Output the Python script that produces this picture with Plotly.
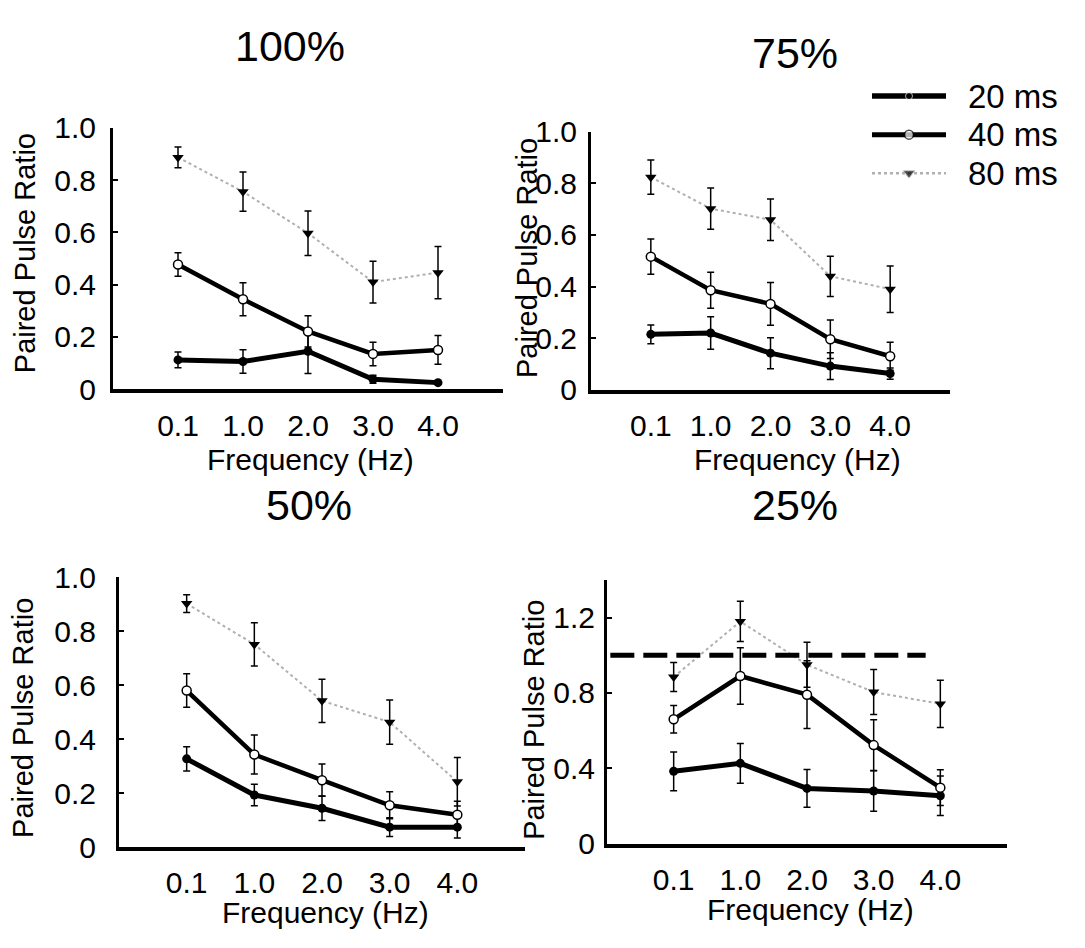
import plotly.graph_objects as go

W, H = 1085, 948
FONT = "Liberation Sans, Arial, sans-serif"

FREQ_LABELS = ["0.1", "1.0", "2.0", "3.0", "4.0"]
SERIES = ["20 ms", "40 ms", "80 ms"]
PANEL_TITLES = ["100%", "75%", "50%", "25%"]

# values (Paired Pulse Ratio), and SEM error bars
P100_20 = [0.112, 0.106, 0.145, 0.038, 0.025]
P100_20_ERR = [0.030, 0.045, 0.085, 0.015, 0.0]
P100_40 = [0.477, 0.344, 0.221, 0.135, 0.150]
P100_40_ERR = [0.045, 0.063, 0.060, 0.045, 0.055]
P100_80 = [0.887, 0.756, 0.597, 0.410, 0.446]
P100_80_ERR = [0.040, 0.075, 0.085, 0.080, 0.100]

P75_20 = [0.215, 0.220, 0.142, 0.092, 0.063]
P75_20_ERR = [0.036, 0.063, 0.060, 0.052, 0.022]
P75_40 = [0.516, 0.386, 0.333, 0.196, 0.130]
P75_40_ERR = [0.068, 0.070, 0.083, 0.075, 0.054]
P75_80 = [0.824, 0.702, 0.659, 0.440, 0.390]
P75_80_ERR = [0.066, 0.080, 0.080, 0.078, 0.090]

P50_20 = [0.327, 0.193, 0.144, 0.074, 0.074]
P50_20_ERR = [0.045, 0.040, 0.045, 0.035, 0.040]
P50_40 = [0.580, 0.343, 0.248, 0.155, 0.120]
P50_40_ERR = [0.062, 0.072, 0.060, 0.050, 0.050]
P50_80 = [0.902, 0.751, 0.542, 0.463, 0.242]
P50_80_ERR = [0.033, 0.080, 0.080, 0.082, 0.090]

P25_20 = [0.384, 0.426, 0.293, 0.279, 0.254]
P25_20_ERR = [0.103, 0.105, 0.100, 0.108, 0.105]
P25_40 = [0.660, 0.890, 0.791, 0.523, 0.297]
P25_40_ERR = [0.073, 0.150, 0.180, 0.135, 0.095]
P25_80 = [0.885, 1.180, 0.950, 0.805, 0.742]
P25_80_ERR = [0.077, 0.107, 0.120, 0.120, 0.125]

REF_LEVEL_25 = 1.0

Y_TICKS_A = [0, 0.2, 0.4, 0.6, 0.8, 1.0]
Y_TICKTEXT_A = ["0", "0.2", "0.4", "0.6", "0.8", "1.0"]
Y_TICKS_B = [0, 0.4, 0.8, 1.2]
Y_TICKTEXT_B = ["0", "0.4", "0.8", "1.2"]

PANELS = [
    dict(d20=P100_20, e20=P100_20_ERR, d40=P100_40, e40=P100_40_ERR, d80=P100_80, e80=P100_80_ERR),
    dict(d20=P75_20, e20=P75_20_ERR, d40=P75_40, e40=P75_40_ERR, d80=P75_80, e80=P75_80_ERR),
    dict(d20=P50_20, e20=P50_20_ERR, d40=P50_40, e40=P50_40_ERR, d80=P50_80, e80=P50_80_ERR),
    dict(d20=P25_20, e20=P25_20_ERR, d40=P25_40, e40=P25_40_ERR, d80=P25_80, e80=P25_80_ERR),
]

# layout geometry in pixels: (x_left, x_right, y_top, y_bottom)
BOXES = [(113, 503, 115, 386), (591, 950, 119, 386.7), (119, 525, 581, 861), (607, 1007, 584, 857.3)]
YMAX = [1.0, 1.0, 1.0, 1.4]
YSTANDOFF = [8, 5, 14, 3]
XSTANDOFF = [7, 6, 6, 6]
TITLE_POS = [(290, 30), (795, 37), (309, 506), (795, 506)]
YTITLE_POS = [(25, 245), (527, 250), (23, 727), (534, 729)]
XTITLE_POS = [(310, 459), (797, 459), (325, 929), (810, 926)]


def px(x):
    return x / W


def py(y):
    return 1 - y / H


fig = go.Figure()
layout = dict(
    width=W, height=H, margin=dict(l=0, r=0, t=0, b=0),
    paper_bgcolor="white", plot_bgcolor="white", showlegend=False,
    font=dict(family=FONT, color="black"),
)
annotations = []
shapes = []

for i, p in enumerate(PANELS):
    n = "" if i == 0 else str(i + 1)
    xa, ya = "x" + n, "y" + n
    x0, x1, y0, y1 = BOXES[i]
    err_kw = dict(type="data", visible=True, color="black", thickness=1.5, width=3.5)
    fig.add_trace(go.Scatter(
        x=FREQ_LABELS, y=p["d80"], xaxis=xa, yaxis=ya, mode="lines+markers",
        line=dict(color="#b0b0b0", width=2, dash="dot"),
        marker=dict(symbol="triangle-down", size=10, color="black"),
        error_y=dict(array=p["e80"], **err_kw), name=SERIES[2]))
    fig.add_trace(go.Scatter(
        x=FREQ_LABELS, y=p["d20"], xaxis=xa, yaxis=ya, mode="lines+markers",
        line=dict(color="black", width=5),
        marker=dict(symbol="circle", size=9, color="black"),
        error_y=dict(array=p["e20"], **err_kw), name=SERIES[0]))
    fig.add_trace(go.Scatter(
        x=FREQ_LABELS, y=p["d40"], xaxis=xa, yaxis=ya, mode="lines+markers",
        line=dict(color="black", width=4.5),
        marker=dict(symbol="circle", size=9, color="white", line=dict(color="black", width=1.5)),
        error_y=dict(array=p["e40"], **err_kw), name=SERIES[1]))

    ticks = Y_TICKS_B if i == 3 else Y_TICKS_A
    ticktext = Y_TICKTEXT_B if i == 3 else Y_TICKTEXT_A
    layout["xaxis" + n] = dict(
        domain=[px(x0), px(x1)], anchor=ya, type="category", categoryarray=FREQ_LABELS,
        range=[-1, 5], showgrid=False, zeroline=False, showline=True, linecolor="black",
        linewidth=4, ticks="", tickfont=dict(family=FONT, size=30, color="black"),
        ticklabelstandoff=XSTANDOFF[i], fixedrange=True)
    layout["yaxis" + n] = dict(
        domain=[py(y1), py(y0)], anchor=xa, range=[0, YMAX[i]], showgrid=False,
        zeroline=False, showline=True, linecolor="black", linewidth=3,
        tickvals=ticks, ticktext=ticktext, ticks="inside", ticklen=5, tickwidth=2,
        tickcolor="black", tickfont=dict(family=FONT, size=30, color="black"),
        ticklabelstandoff=YSTANDOFF[i], fixedrange=True)

    tx, ty = TITLE_POS[i]
    annotations.append(dict(text=PANEL_TITLES[i], x=px(tx), y=py(ty), xref="paper", yref="paper",
                            showarrow=False, xanchor="center", yanchor="middle",
                            font=dict(family=FONT, size=43, color="black")))
    ax_, ay_ = YTITLE_POS[i]
    annotations.append(dict(text="Paired Pulse Ratio", x=px(ax_), y=py(ay_), xref="paper", yref="paper",
                            showarrow=False, textangle=-90, xanchor="center", yanchor="middle",
                            font=dict(family=FONT, size=29, color="black")))
    fx, fy = XTITLE_POS[i]
    annotations.append(dict(text="Frequency (Hz)", x=px(fx), y=py(fy), xref="paper", yref="paper",
                            showarrow=False, xanchor="center", yanchor="middle",
                            font=dict(family=FONT, size=30, color="black")))

# reference line at ratio 1.0 in the 25% panel
shapes.append(dict(type="line", xref="x4", yref="y4", x0=-0.95, x1=3.78,
                   y0=REF_LEVEL_25, y1=REF_LEVEL_25,
                   line=dict(color="black", width=5, dash="24px,9px")))

# legend drawn on its own small axis pair
LEG_Y = [2.5, 1.5, 0.5]
leg_styles = [
    dict(line=dict(color="black", width=5.5), marker=dict(symbol="circle", size=[0, 7, 0], color="black")),
    dict(line=dict(color="black", width=5), marker=dict(symbol="circle", size=[0, 9, 0], color="white",
                                                       line=dict(color="black", width=1.5))),
    dict(line=dict(color="#b0b0b0", width=2.5, dash="dot"), marker=dict(symbol="triangle-down", size=[0, 10, 0], color="black")),
]
for k, name in enumerate(SERIES):
    fig.add_trace(go.Scatter(x=[0, 0.5, 1], y=[LEG_Y[k]] * 3, xaxis="x5", yaxis="y5",
                             mode="lines+markers", name=name, **leg_styles[k]))
    annotations.append(dict(text=name, x=px(966), y=LEG_Y[k], xref="paper", yref="y5",
                            showarrow=False, xanchor="left", yanchor="middle",
                            font=dict(family=FONT, size=33, color="black")))
layout["xaxis5"] = dict(domain=[px(872), px(946)], anchor="y5", range=[0, 1], visible=False, fixedrange=True)
layout["yaxis5"] = dict(domain=[py(182), py(62)], anchor="x5", range=[0, 3], visible=False, fixedrange=True)

layout["annotations"] = annotations
layout["shapes"] = shapes
fig.update_layout(**layout)
fig.write_html("out.html")
